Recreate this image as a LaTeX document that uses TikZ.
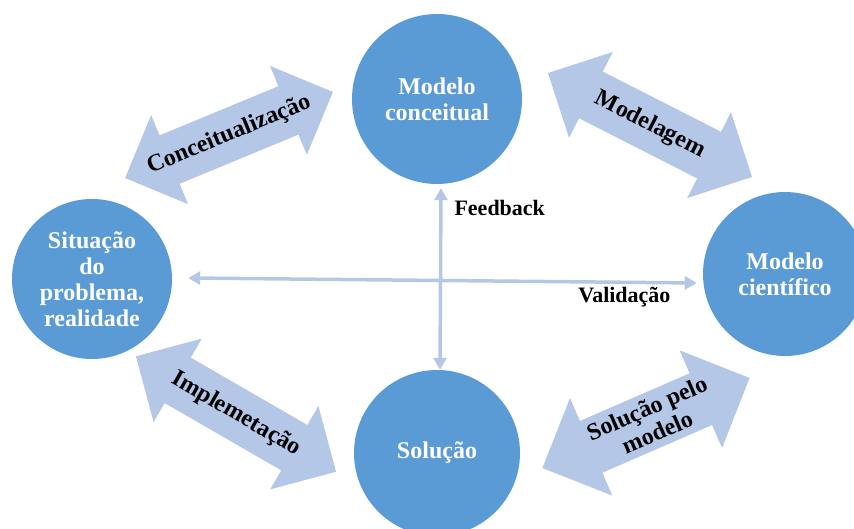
\documentclass[tikz,border=0pt]{standalone}
\usepackage{fontspec}
\setmainfont{Liberation Serif}
\usetikzlibrary{shapes.arrows,arrows.meta}
\definecolor{circblue}{HTML}{5B9BD5}
\definecolor{arrblue}{HTML}{B4C7E7}
\begin{document}
\begin{tikzpicture}[x=1pt,y=-1pt,
    stage/.style={circle,fill=circblue,text=white,inner sep=0pt,align=center,
      font=\fontsize{24}{26}\selectfont\bfseries},
    bigarrow/.style={double arrow,fill=arrblue,inner sep=0pt,inner ysep=26pt,
      double arrow head extend=22pt,minimum height=#1},
    arrowtext/.style={align=center,font=\fontsize{24}{26}\selectfont\bfseries},
    thinarrow/.style={arrblue,line width=3.5pt,
      {Triangle[length=12pt,width=13pt]}-{Triangle[length=12pt,width=13pt]}},
    tag/.style={font=\fontsize{22}{24}\selectfont\bfseries}]
\useasboundingbox (0,0) rectangle (854,529);
% the four stages
\node[stage,minimum size=170] (conc) at (437,99) {Modelo\\conceitual};
\node[stage,minimum size=160] (sit) at (92,279) {Situação\\do\\problema,\\realidade};
\node[stage,minimum size=164] (sci) at (785,274) {Modelo\\científico};
\node[stage,minimum size=166] (sol) at (437,453) {Solução};
% big arrows between them
\node[bigarrow=225,rotate=22.5] (a-conc) at (229,135) {};
\node[bigarrow=229,rotate=-27] (a-mod) at (650,125) {};
\node[bigarrow=231,rotate=-30] (a-imp) at (236,414) {};
\node[bigarrow=226,rotate=23.5,inner ysep=28pt,double arrow head extend=25pt] (a-sol) at (646,423) {};
\node[arrowtext,rotate=22.5] (l-conc) at (a-conc) {Conceitualização};
\node[arrowtext,rotate=-27] (l-mod) at (a-mod) {Modelagem};
\node[arrowtext,rotate=-30] (l-imp) at (a-imp) {Implemetação};
\node[arrowtext,rotate=23.5] (l-sol) at (652,420) {Solução pelo\\modelo};
% feedback and validation
\draw[thinarrow] ([shift={(4,4)}]conc.south) -- ([shift={(3,0)}]sol.north);
\draw[thinarrow] ([shift={(16,-1)}]sit.east) -- ([shift={(-6,9)}]sci.west);
\node[tag,anchor=west] (fb) at (451,208) {Feedback};
\node[tag,anchor=east] (val) at (674,297) {Validação};
\end{tikzpicture}
\end{document}
